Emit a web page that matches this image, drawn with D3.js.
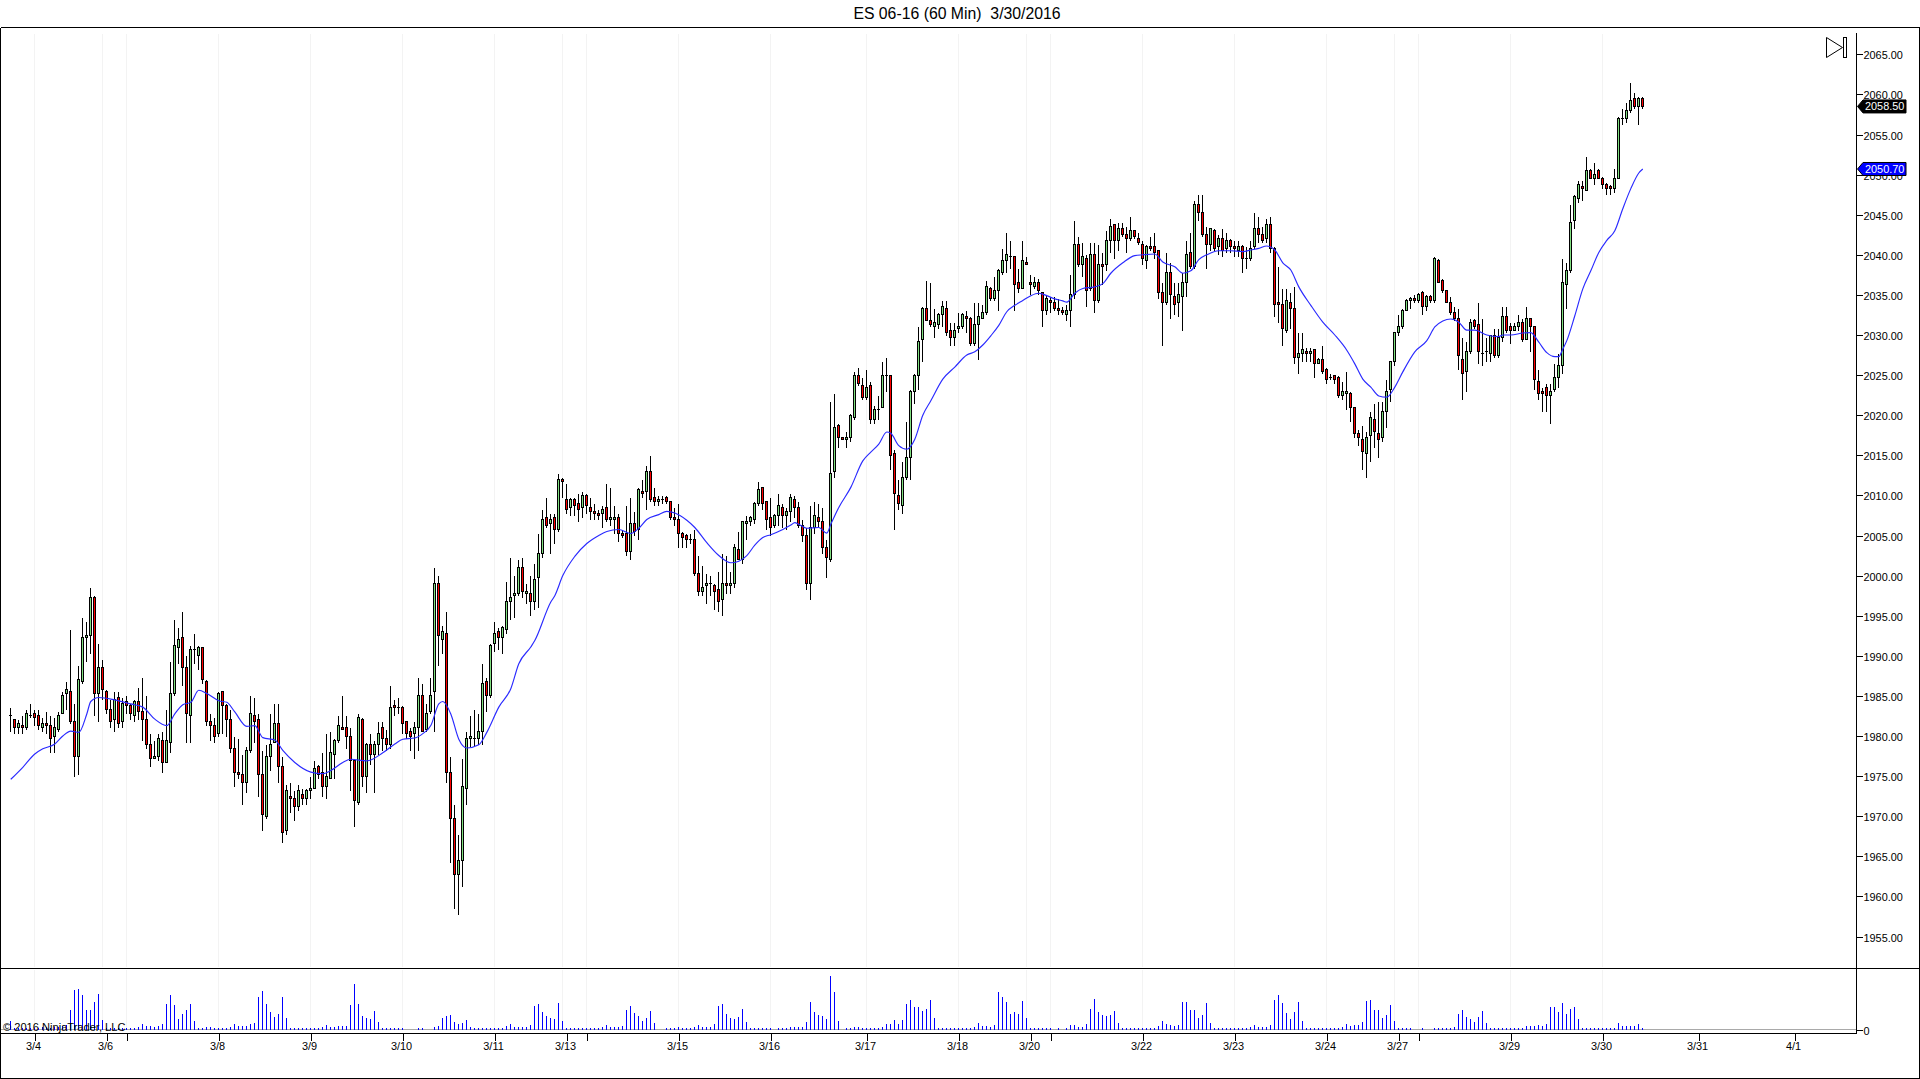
<!DOCTYPE html>
<html>
<head>
<meta charset="utf-8">
<script src="https://cdn.jsdelivr.net/npm/d3@7/dist/d3.min.js"></script>
<style>
html,body{margin:0;padding:0;background:#fff;overflow:hidden}
svg{display:block}
text{font-family:"Liberation Sans",Arial,sans-serif}
</style>
</head>
<body>
<svg id="chart" width="1920" height="1079"></svg>
<script>
const opens=[
1982.5,1982,1981,1981.25,1981,1982.5,1982.75,1982.5,1981,1981.5,
1981.25,1980,1980.75,1982.75,1985.25,1985.5,1981.75,1977.5,1986.75,1992.25,
1992.5,1997.25,1985.25,1988.5,1985.5,1983.25,1982,1984.75,1981.75,1984.25,
1983.75,1982.5,1984.25,1983,1982,1979,1977.25,1977.5,1979.5,1976.75,
1979.25,1985.25,1991,1992.25,1988.5,1982.5,1990.75,1990,1991,1986.75,
1981.75,1981.25,1980.25,1985.5,1983.75,1982,1978.5,1975.5,1975.25,1974.25,
1978.25,1982.5,1982,1975.25,1970,1977.5,1979.25,1981.5,1976.25,1968.25,
1972.5,1972.25,1971.25,1972.75,1972.25,1973.25,1973.5,1976.25,1975.5,1973.75,
1974.75,1977.75,1979.5,1981,1981,1980,1977,1971.75,1982,1975,
1979,1977.75,1979,1981,1979.75,1979,1983.75,1983.5,1983.5,1981.75,
1980.5,1980.25,1981,1985,1980.75,1983,1985.5,1999,1992,1992.75,
1975.5,1969.75,1962.75,1964.5,1973.5,1979.75,1979.75,1979.75,1980.5,1986.75,
1985,1991.5,1993,1992.25,1993.25,1996.75,1997.5,1997.75,2001,1997.75,
1997.75,1996.75,1999.75,2002.75,2007.25,2006.5,2007.25,2005.75,2012,2009.5,
2008.5,2009.5,2009,2008.5,2010,2008.5,2008,2007.75,2007.75,2008.5,
2007,2007,2007.25,2005.25,2005.25,2003,2006.5,2005.75,2010.5,2010.5,
2013,2009.75,2009.25,2009.5,2009.75,2009.25,2007.25,2007,2005.25,2005,
2004.5,2004.5,2000.25,1998,1998.75,1999,1998.75,1998.25,1997,1999,
1998.75,1999,2003.25,2002,2006.5,2006.75,2007,2009,2011,2009.25,
2007.25,2006.25,2007.5,2008.5,2007.5,2008,2009.5,2008.5,2006.25,2005,
1999,2006,2007.25,2006.75,2003.5,2002,2013,2018.75,2017.25,2017,
2017.25,2019.75,2025,2023.75,2022.25,2023.75,2019.5,2020.75,2021,2025,
2025,2015.25,2010,2008.75,2012.25,2014.75,2023,2025,2029.5,2033.25,
2031.75,2031,2031.25,2032.5,2033.25,2030.5,2029.75,2030.75,2031,2032.25,
2032,2029,2031.25,2032,2032.75,2035.75,2034.5,2035.5,2037.75,2039.25,
2039.75,2039.75,2036.5,2035.75,2039,2036.5,2036,2036.5,2035.25,2033,
2034.25,2034,2033.25,2033,2032.5,2033,2035,2041.25,2038.75,2039.5,
2035.75,2040,2034.25,2038.75,2038.75,2041.75,2043.75,2041.75,2043.25,2042.5,
2042,2043,2042,2041.25,2039.25,2041,2041,2040.5,2035.25,2034,
2037.75,2034.75,2034,2034.75,2036.5,2040.25,2038.5,2046.25,2045.25,2042.5,
2041.25,2043,2041,2042,2040.75,2041.75,2041,2040.5,2041,2039.5,
2039.5,2041,2043.25,2042.5,2042,2043.75,2040.75,2034,2033.75,2030.5,
2034,2033.25,2027.25,2027.75,2028,2027.75,2028.25,2026.5,2027,2025.75,
2024.75,2025,2024.75,2022.5,2022.75,2022.75,2021,2017.75,2017,2015.25,
2017.5,2019.5,2017.75,2017.25,2020.5,2023.25,2026.75,2030.25,2031,2033,
2034.25,2034.5,2034.25,2035.25,2033.5,2034.75,2034.25,2039.25,2036.75,2035.5,
2034,2032.75,2032,2027,2025.5,2028,2031.75,2031.25,2027.75,2028,
2027.75,2030,2027.5,2029.75,2032.25,2031,2030.5,2031,2031.5,2029.5,
2032,2031,2024.25,2023,2023.5,2022.5,2023.25,2024.75,2026.25,2036.25,
2038,2044.25,2047,2048.5,2048,2050.5,2049.5,2050.5,2049.5,2048.75,
2048.5,2048.25,2049.5,2057,2057,2058,2059.5,2058.5,2059.5];
const closes=[
1982.5,1981,1981.5,1981,1982.75,1982.5,1982.25,1981.25,1981.5,1981.25,
1979.75,1981,1982.5,1985,1985.75,1981.75,1977.5,1987,1992.25,1992.5,
1997.25,1985.25,1988.5,1985.75,1983.25,1981.75,1984.5,1981.5,1984,1983.75,
1982.75,1984.25,1983,1982,1979,1977.25,1977.5,1979.75,1976.75,1979.5,
1985.25,1991.25,1992,1988.5,1982.75,1990.75,1990.75,1991,1987,1981.75,
1981.25,1980,1985.25,1983.75,1982,1978.5,1975.5,1975.25,1974.25,1978.25,
1982.75,1981.75,1975.25,1970.25,1977.5,1979,1981.5,1976.25,1968,1973.25,
1972.25,1971.25,1973.25,1972.25,1973.25,1973.5,1976,1975.25,1973.75,1975,
1978,1979.5,1981.25,1980.75,1980,1977,1972,1982.25,1975,1979,
1977.75,1979,1980.25,1979.75,1979,1983.5,1983.5,1983.5,1981.5,1980.25,
1980,1981,1985,1980.5,1982.75,1985,1999,1992.5,1993,1975.5,
1969.75,1962.75,1964.5,1973.75,1979.75,1980,1979.75,1980.5,1986.5,1985,
1991.25,1992.75,1992.25,1993.5,1996.75,1997.25,1997.75,2001,1998,1998,
1996.75,1999.5,2002.75,2007,2006.25,2007,2005.75,2012,2011.75,2008.25,
2009.5,2008.75,2008.25,2010,2008.75,2008,2007.75,2007.5,2008.25,2007,
2007.25,2007.25,2005.25,2005,2003,2006.5,2005.5,2010.75,2010.25,2013,
2009.5,2009.25,2009.5,2009.5,2009.25,2007.25,2007,2005.25,2004.75,2004.5,
2004.5,2000.25,1998,1998.5,1999,1999,1998,1996.75,1999,1998.75,
1999,2003.5,2002,2006.75,2006.75,2007.25,2009,2010.75,2009,2007,
2006,2007.5,2008.75,2007.5,2008,2009.75,2008.5,2006.25,2005,1999,
2006,2007.5,2006.75,2003.5,2002.25,2012.75,2018.5,2017.25,2017,2017.25,
2020,2025,2024,2022.25,2023.5,2019.5,2020.75,2020.75,2025,2025,
2015,2010.25,2009,2012.25,2014.75,2023,2025,2029.25,2033.25,2031.75,
2031.25,2031.5,2032.5,2033.5,2030.25,2029.75,2030.5,2031,2032.5,2032,
2029,2031.25,2032.25,2032.75,2036,2034.5,2035.5,2038,2039.25,2040,
2039.75,2036.25,2035.75,2039.25,2038.75,2036.25,2036.5,2035.5,2033,2034.5,
2034,2033.25,2033,2032.75,2033,2035,2041.25,2038.75,2039.75,2035.5,
2040,2034.25,2038.75,2038.5,2041.75,2043.5,2041.75,2043.25,2042.5,2042,
2043,2042.25,2041.5,2039.5,2041,2040.75,2040.25,2035.25,2034,2037.75,
2035,2033.75,2035,2036.5,2040,2038.5,2046.25,2045.25,2042.5,2041.25,
2043.25,2040.75,2042,2040.5,2041.75,2041,2040.75,2041,2039.5,2039.5,
2040.75,2043.25,2042.5,2041.75,2043.75,2040.75,2033.75,2033.75,2030.75,2034.25,
2033.25,2027.25,2027.75,2028.25,2027.75,2028,2026.5,2027,2025.5,2024.5,
2024.75,2024.5,2022.5,2023,2023,2021,2017.75,2017.25,2015.5,2017.25,
2019.75,2018,2017,2020.5,2023,2026.75,2030.25,2031,2033,2034.25,
2034.5,2034.25,2035,2033.5,2034.75,2034.25,2039.5,2036.5,2035.5,2034,
2032.75,2032,2027.5,2025.25,2028,2031.5,2031,2028,2027.75,2028,
2030,2027.5,2029.75,2032.25,2030.5,2030.5,2031,2031.5,2029.5,2032,
2031,2024.5,2022.75,2022.75,2022.5,2023,2024.75,2026.25,2036.5,2038,
2044,2047.25,2048.75,2048.25,2050.5,2049.5,2050,2049.5,2048.75,2048.25,
2048.25,2049.5,2057,2057,2058,2059.25,2058.5,2059.5,2058.5];
const highs=[
1983.5,1982,1982,1982.5,1983.25,1984,1983.25,1983.25,1982.25,1983,
1982.5,1982.25,1983,1985.5,1986.75,1993.25,1984,1988.75,1994.75,1994.25,
1998.5,1997.5,1991.5,1989.5,1985.75,1984.5,1985.5,1985.5,1984.75,1985,
1984,1984.5,1986,1987.25,1985,1980.25,1979.5,1980.25,1980.5,1983.25,
1989.25,1994.5,1993.5,1995.5,1990,1991.25,1992.75,1991.25,1991,1987,
1982.75,1982.25,1985.5,1985.5,1984,1983.25,1980,1979.75,1977.75,1978.75,
1985,1984.75,1982.75,1978.25,1979,1982.75,1984,1984,1977.5,1974,
1974.25,1973.25,1974,1973.5,1973.5,1975,1977,1976.5,1978,1980.25,
1980.5,1979.75,1982.5,1985,1982.5,1981,1977,1982.75,1982.25,1979.25,
1980.25,1979.5,1981.75,1981.75,1980.75,1986.25,1984.5,1984.75,1983.75,1981.75,
1981,1981.75,1987.25,1986.5,1984,1987.25,2001,2000,1993.75,1995.5,
1977.5,1971.5,1967.75,1977.25,1980.5,1982.5,1983.25,1982.75,1989,1987.25,
1991.5,1994.25,1993.5,1993.75,1999.25,2002.25,2000,2002,2002.25,1999,
2000,2001.5,2005.25,2008.25,2009.75,2007.75,2007.75,2012.75,2012.25,2011.5,
2009.75,2009.75,2010.25,2010.5,2010.25,2009.75,2009,2008.25,2008.75,2011.5,
2011,2008.75,2007.75,2005.75,2008.75,2009.75,2008,2011,2012,2013.75,
2015,2011,2010,2010,2010,2009.25,2008.5,2009,2005.5,2005.25,
2005.25,2005.75,2002.5,2001.25,2000.25,2000,1999,2000.5,2002.75,2002.5,
2000.5,2004,2005.5,2006.75,2007.5,2007.5,2009.25,2011.75,2011,2009.25,
2009.75,2007.75,2010.25,2009,2008.5,2010.25,2010,2009.25,2007,2006,
2008.75,2009.25,2009,2008.5,2004.5,2021.75,2022.75,2019,2017.25,2018,
2020.25,2025.5,2026,2024.75,2025.75,2024.25,2021.25,2022.5,2026.75,2027.25,
2025,2015.75,2012,2014.25,2019.25,2023.25,2025.25,2031,2033.5,2036.75,
2036.5,2033.25,2032.75,2034.25,2034.25,2031.5,2031.5,2032.75,2032.75,2033,
2032.25,2034,2034,2033.75,2036.75,2036,2037.25,2038.25,2040.75,2042.75,
2041.75,2039.75,2038.25,2041.75,2039.75,2037.5,2037.25,2037,2035.25,2035,
2034.75,2034.75,2034.5,2033.5,2033.75,2037.5,2044.25,2042.25,2041.5,2040,
2041.5,2041.5,2041.25,2040.25,2043,2044.5,2043.75,2044,2044,2043.5,
2044.75,2043,2042.75,2041.75,2041.25,2042.25,2042.75,2040.5,2036.5,2040.25,
2039,2036.5,2036.5,2037.75,2041.75,2042.75,2046.75,2047.5,2047.5,2043.5,
2043.25,2043.25,2042.5,2043.25,2042.75,2042,2041.75,2041.75,2041.25,2041,
2041.75,2045.25,2044.75,2043.5,2044.5,2044.75,2041,2038.5,2035.75,2035.75,
2035.25,2036,2030.25,2030.25,2028.5,2028.5,2028.25,2027.25,2028.75,2026,
2025.25,2025,2025,2024.25,2025.5,2023,2021,2018.25,2018.75,2018,
2020.5,2021.5,2021.75,2021.75,2024.5,2026.75,2030.25,2032.5,2033.25,2034.5,
2034.75,2035,2035.25,2035.5,2035,2035,2039.75,2039.5,2037,2035.5,
2034.75,2033.5,2033.25,2029.75,2029.25,2032,2032,2034,2032,2029.75,
2030,2030.75,2030.75,2033.5,2033.5,2031.5,2031.5,2032.5,2032,2033.5,
2032,2031,2025.75,2023.5,2024,2024,2026.5,2027.75,2039.5,2039,
2046.25,2047.5,2049.25,2049.25,2052.25,2050.75,2051.5,2050.75,2049.75,2049,
2048.75,2050.75,2057.25,2058.25,2059,2061.5,2060.25,2059.75,2059.75];
const lows=[
1980.5,1980.25,1980.25,1980.25,1980.75,1982.25,1981.25,1980.75,1980.5,1980.25,
1978,1978,1980.5,1982.75,1983.25,1981.5,1975,1975.25,1986.5,1989.25,
1990.25,1982.5,1981.75,1984.5,1982.75,1981,1980.5,1981,1981,1982.75,
1982,1981.75,1982,1979.5,1978.5,1976.25,1977.25,1977,1975.5,1976.75,
1978,1985,1989,1986.25,1979.25,1979.25,1989,1988.25,1986.5,1981.25,
1979.5,1979.25,1980,1980.25,1980,1978,1973.75,1974.75,1971.5,1973,
1978,1979.25,1972.5,1968.25,1969.75,1975.75,1979.25,1974.25,1966.75,1967.75,
1970.5,1969.5,1970.75,1971.5,1971.5,1972.25,1973.5,1974.75,1972.5,1972.25,
1974.75,1974.75,1979.25,1980.75,1978.5,1973.25,1968.75,1971.5,1973.75,1973,
1976.5,1973,1977.75,1978.25,1978.25,1978.5,1982.5,1982.75,1980.25,1979.75,
1978.25,1977.25,1978.25,1980.5,1980.5,1982.75,1980.5,1988.75,1990.25,1974.25,
1964.25,1958.5,1957.75,1961.25,1971.5,1978.75,1978.75,1979,1979,1983,
1984.75,1990.5,1990.75,1990.25,1992.75,1994.5,1994.75,1997.5,1997.25,1996.5,
1995,1995.75,1996,2002.25,2006,2002.75,2004,2005.5,2009.75,2007.75,
2007.5,2007.5,2006.75,2007.25,2007.75,2007,2007,2007,2006,2006.75,
2006.25,2005.25,2004.25,2004.75,2002.5,2002,2005,2004.5,2009.75,2008.25,
2009.25,2008.75,2008.75,2009,2009,2007,2006.25,2003.5,2003.5,2003.5,
2004,2000,1997.5,1997.5,1996.5,1997.5,1995.75,1995.5,1995,1997.75,
1997.75,1998.5,2002,2001.5,2004.5,2006.25,2006.5,2008.75,2008.25,2005.75,
2005,2006,2006.25,2006,2005.75,2006.75,2007.25,2006,2004.25,1998.25,
1997,2005.25,2006,2002.75,1999.75,2001.75,2012.25,2016,2017,2016,
2016.75,2019.5,2023.75,2022,2022,2019,2019,2019.5,2021,2023,
2013.25,2005.75,2008.25,2007.75,2012,2012,2021.5,2023.25,2026.75,2031.75,
2031,2029.75,2030.75,2031,2030,2028.75,2028.75,2030.25,2030.75,2030.25,
2028.75,2028.75,2027,2032,2032.5,2034.25,2034.25,2033,2037.5,2037.75,
2038.25,2033,2035.25,2035.75,2038.75,2035,2035.75,2035,2031,2032.5,
2032.75,2033,2032.5,2032.5,2031.75,2031,2034.5,2038.5,2037.25,2033.5,
2035.5,2032.75,2034,2036.25,2038,2040.25,2039.5,2040.5,2042.25,2040.25,
2041.75,2042,2041.25,2038.75,2038.25,2040.5,2039.5,2034.5,2028.75,2033.75,
2032,2032.5,2032.25,2030.5,2034.75,2038.25,2038.25,2044.25,2042.25,2038.25,
2040.5,2040.5,2040,2039.75,2040.25,2040.25,2039.75,2039.75,2037.75,2038.25,
2039.25,2040.75,2041.5,2041.5,2041.5,2040.25,2032.25,2031.5,2028.75,2030.25,
2030.75,2026.5,2025.25,2026.75,2026.75,2026.75,2024.75,2026.5,2025.25,2024,
2024.5,2024,2022.25,2022,2020.75,2019.25,2017.25,2016.25,2013.25,2012.25,
2014.25,2016,2014.75,2016.75,2018.5,2021.75,2026.25,2030,2030.75,2033,
2033.25,2034,2034,2032.5,2033,2034,2034,2036.5,2035.25,2034,
2032.5,2031.75,2025.75,2022,2023,2027.75,2030.75,2026.5,2026.25,2026.75,
2026.75,2027.25,2027.25,2029.25,2030.25,2029,2030.5,2030.5,2029.25,2029.5,
2028,2023.25,2022,2020.5,2020.5,2019,2023,2023.5,2025.25,2033.25,
2037.75,2043.25,2046.5,2046.75,2048,2049.5,2048.75,2049.5,2048.25,2047.5,
2047.5,2047.75,2049.5,2056.25,2056.5,2057.75,2058.25,2056.25,2058.25];
const volumes=[
26,6,6,6,6,6,6,6,8,8,
6,8,10,12,16,59,119,122,104,59,
59,83,107,29,6,6,6,6,6,6,
6,6,8,17,11,11,8,11,17,77,
104,74,32,47,59,77,26,5,5,8,
8,5,5,5,5,8,17,11,11,11,
17,20,98,116,77,53,38,47,98,35,
5,5,5,5,5,5,5,5,8,14,
8,8,11,11,11,74,137,77,41,35,
32,56,23,5,5,5,5,5,5,0,
0,0,5,5,0,0,8,11,35,41,
44,23,17,20,29,8,5,5,5,5,
5,5,5,5,11,17,8,8,8,8,
14,71,77,53,41,35,32,80,26,5,
5,5,5,5,5,5,5,5,8,14,
8,8,8,11,59,71,50,41,26,35,
56,20,0,0,5,5,5,8,5,5,
5,8,14,8,8,8,17,71,77,47,
35,32,38,62,23,5,5,5,5,5,
5,0,5,5,5,8,8,8,8,23,
83,53,44,41,32,161,113,26,0,5,
5,8,8,5,5,5,5,5,8,17,
17,29,17,29,77,89,68,68,56,62,
89,35,5,5,5,5,5,5,5,5,
5,8,20,11,11,8,14,113,98,83,
47,53,47,86,35,5,5,5,5,5,
5,0,5,0,5,14,14,8,8,17,
62,92,53,44,41,44,56,20,5,5,
5,5,5,5,5,5,5,11,26,17,
14,11,14,83,83,59,59,35,44,80,
20,5,5,5,5,5,5,5,5,5,
8,14,8,8,8,14,89,104,80,50,
32,53,83,26,5,5,5,5,5,5,
5,5,5,8,17,11,14,14,23,86,
89,59,59,35,44,74,26,5,5,5,
5,0,0,5,0,0,5,5,5,5,
5,8,47,59,38,32,23,38,56,20,
5,5,5,5,5,5,5,5,5,11,
11,11,14,11,17,68,68,53,82,49,
64,70,34,5,5,5,5,5,5,5,
5,5,20,11,11,11,11,17,5];
const averageBars=[0,3,6,8,11,13,15,17,19,20,22,26,30,33,36,39,41,43,45,47,49,52,54,56,59,61,63,66,68,71,75,78,80,83,85,89,93,96,98,101,103,105,107,108,110,112,114,117,119,122,
125,127,130,131,135,136,138,141,144,147,149,152,155,157,159,162,164,166,169,171,174,177,180,182,184,186,188,190,193,195,196,197,199,202,204,
205,207,210,213,215,217,219,220,222,224,226,228,230,233,236,239,241,243,245,247,249,251,253,255,257,
258,261,263,264,266,268,271,273,275,278,281,283,286,288,291,293,295,297,299,302,305,308,310,312,314,316,318,320,322,325,328,331,334,336,338,340,342,344,346,348,351,354,356,358,360,362,364,366,369,372,
373,375,378,380,382,384,386,387,388,389,391,393,395,397,399,401,403,405,407,408];
const averageValues=[1974.6,1976.1,1977.75,1978.4,1979,1980,1980.6,1980.45,1982.75,1984.3,1984.8,1984.5,1984,1983.6,1982.1,1981.3,1982.75,1983.9,1984.2,1985.7,1985.3,1984.4,1984.2,1983,1981.2,1981.3,1979.8,1979.5,1978.2,1976.7,1975.5,1975.3,1975.7,1976.7,1977.1,1976.9,1977.9,1979,1979.6,1979.75,1980.3,1981.3,1984,1984.3,1982.75,1979.6,1978.5,1978.9,1980.45,1983.6,
1985.9,1989,1991.1,1991.9,1996.7,1997.5,2000,2002.4,2004,2005,2005.5,2005.75,2005.25,2005.9,2007,2007.6,2008,2007.8,2006.9,2006,2004.1,2002.5,2001.6,2001.8,2002.5,2003.8,2004.75,2005.1,2005.75,2006.3,2006.6,2006.4,2005.9,2006,2005.3,
2006.4,2008.5,2011,2014.3,2015.4,2016.4,2017.9,2017.75,2016.2,2015.75,2017,2020,2021.8,2024.5,2026,2027.5,2027.9,2028.75,2029.9,2031.2,2032.9,2033.7,2034.3,2034.9,2035.2,
2035.1,2034.5,2034.25,2034.1,2035.2,2035.8,2036,2036.4,2037.7,2039,2039.9,2040,2040.1,2039.1,2038.5,2037.7,2038,2039.4,2040,2040.5,2040.5,2040.4,2040.6,2040.8,2041.1,2040.6,2039,2038.1,2036,2033.7,2031.6,2030,2028.1,2026.4,2024.5,2023.5,2022.4,2022.25,2023.5,2025.4,2027.9,2029.3,2031,2031.75,2032,2031.6,2030.6,2030.6,2030,2029.8,
2030,2030,2030.25,2030.3,2029.1,2027.8,2027.3,2027.3,2028.25,2029.3,2032.4,2035.75,2038,2040.3,2041.8,2043,2045.75,2048.25,2050.2,2050.7];
const priceTicks=[1955,1960,1965,1970,1975,1980,1985,1990,1995,2000,2005,2010,2015,2020,2025,2030,2035,2040,2045,2050,2055,2060,2065];
const dateTickBars=[6,24,29,52,75,98,121,139,144,167,190,214,237,255,260,283,306,329,347,352,375,398,422,446];
const dateTickLabels=["3/4","3/6","","3/8","3/9","3/10","3/11","3/13","","3/15","3/16","3/17","3/18","3/20","","3/22","3/23","3/24","3/27","","3/29","3/30","3/31","4/1"];
const gridBars=[6,23,29,52,75,98,121,138,144,167,190,214,237,254,260,283,306,329,346,352,375,398];
const lastPrice=2058.5, lastAverage=2050.7;
const titleText="ES 06-16 (60 Min)  3/30/2016";
const copyrightText="\u00A9 2016 NinjaTrader, LLC";

const svg=d3.select("#chart");
const x=d3.scaleLinear().domain([0,408]).range([10.5,1642.5]);
const y=d3.scaleLinear().domain([1955,2065]).range([936.5,54.3]);
const v=d3.scaleLinear().domain([0,161]).range([1029.5,975.83]);
const snap=p=>Math.round(p-0.5)+0.5;
const black="#000";

// grid
const grid=svg.append("g").attr("stroke","#f3f3f3").attr("shape-rendering","crispEdges");
grid.selectAll("line.a").data(gridBars).join("line").attr("class","a")
  .attr("x1",d=>x(d)).attr("x2",d=>x(d)).attr("y1",34).attr("y2",967);
grid.selectAll("line.b").data(gridBars).join("line").attr("class","b")
  .attr("x1",d=>x(d)).attr("x2",d=>x(d)).attr("y1",970).attr("y2",1029);

// volume baseline and bars
svg.append("line").attr("x1",1).attr("x2",1856).attr("y1",1029.5).attr("y2",1029.5)
  .attr("stroke","#a9a9a9").attr("shape-rendering","crispEdges");
svg.append("g").attr("stroke","#0000ff").attr("shape-rendering","crispEdges")
  .selectAll("line").data(volumes.map((d,i)=>[i,d]).filter(d=>d[1]>0)).join("line")
  .attr("x1",d=>x(d[0])).attr("x2",d=>x(d[0]))
  .attr("y1",v(0)).attr("y2",d=>snap(v(d[1])));

// candles
const bars=opens.map((o,i)=>({i,o,c:closes[i],h:highs[i],l:lows[i]}));
const candles=svg.append("g");
candles.append("g").attr("stroke",black).attr("shape-rendering","crispEdges")
  .selectAll("line").data(bars).join("line")
  .attr("x1",d=>x(d.i)).attr("x2",d=>x(d.i))
  .attr("y1",d=>snap(y(d.h))).attr("y2",d=>snap(y(d.l)));
candles.append("g").attr("shape-rendering","crispEdges")
  .selectAll("rect").data(bars.filter(d=>d.c!==d.o)).join("rect")
  .attr("x",d=>x(d.i)-1).attr("width",2)
  .attr("y",d=>snap(y(Math.max(d.o,d.c))))
  .attr("height",d=>snap(y(Math.min(d.o,d.c)))-snap(y(Math.max(d.o,d.c))))
  .attr("fill",d=>d.c>d.o?"#80e080":"#ff0000")
  .attr("stroke",black);
candles.append("g").attr("stroke",black).attr("shape-rendering","crispEdges")
  .selectAll("line").data(bars.filter(d=>d.c===d.o)).join("line")
  .attr("x1",d=>x(d.i)-1.5).attr("x2",d=>x(d.i)+1.5)
  .attr("y1",d=>snap(y(d.o))).attr("y2",d=>snap(y(d.o)));

// average line
svg.append("path").datum(averageBars.map((b,i)=>[b,averageValues[i]]))
  .attr("fill","none").attr("stroke","#2a2aff").attr("stroke-width",1.15)
  .attr("d",d3.line().x(d=>x(d[0])+0.3).y(d=>y(d[1])).curve(d3.curveMonotoneX));

// frame
const frame=svg.append("g").attr("stroke",black).attr("shape-rendering","crispEdges");
[[0,27,1920,27],[0,968,1920,968],[0,1033,1856,1033],[0,1078,1920,1078],[0,27,0,1078],[1919,27,1919,1078],[1856,32,1856,1033]]
  .forEach(s=>frame.append("line").attr("x1",s[0]+0.5).attr("y1",s[1]+0.5).attr("x2",s[2]+0.5).attr("y2",s[3]+0.5));

// price axis
const priceAxis=d3.axisRight(y).tickValues(priceTicks).tickFormat(d3.format(".2f")).tickSize(6).tickPadding(1);
const pa=svg.append("g").attr("transform","translate(1856.5,0)").call(priceAxis);
pa.select(".domain").remove();
pa.selectAll("line").attr("stroke",black).attr("shape-rendering","crispEdges");
pa.selectAll("text").attr("fill",black).attr("font-size","10.9px").attr("font-family","Liberation Sans").attr("y",1);

// volume axis
const va=svg.append("g").attr("transform","translate(1856.5,0)")
  .call(d3.axisRight(v).tickValues([0]).tickFormat(d3.format("d")).tickSize(6).tickPadding(1));
va.select(".domain").remove();
va.selectAll("line").attr("stroke",black).attr("shape-rendering","crispEdges");
va.selectAll("text").attr("fill",black).attr("font-size","10.9px").attr("font-family","Liberation Sans").attr("y",1);

// date axis
const da=svg.append("g").attr("transform","translate(0,1033.5)")
  .call(d3.axisBottom(x).tickValues(dateTickBars).tickFormat((d,i)=>dateTickLabels[i]).tickSize(7).tickPadding(2));
da.select(".domain").remove();
da.selectAll("line").attr("stroke",black).attr("shape-rendering","crispEdges");
da.selectAll("text").attr("fill",black).attr("font-size","10.9px").attr("font-family","Liberation Sans").attr("dx",-1.5);

// price markers
function marker(val,fill,stroke){
  const c=y(val);
  svg.append("path").attr("d",`M1857.5,${c} L1863,${c-6.5} L1906,${c-6.5} L1906,${c+6.5} L1863,${c+6.5} Z`)
    .attr("fill",fill).attr("stroke",stroke);
  svg.append("text").attr("x",1865).attr("y",c+3.9).attr("fill","#fff").attr("font-size","10.9px").text(d3.format(".2f")(val));
}
marker(lastPrice,"#000","#000");
marker(lastAverage,"#0000ff","#000");

// go-to-end icon
svg.append("path").attr("d","M1826.5,37.5 L1842.5,47.5 L1826.5,57.5 Z").attr("fill","#fff").attr("stroke",black);
svg.append("rect").attr("x",1843.5).attr("y",37.5).attr("width",3).attr("height",20).attr("fill","#fff").attr("stroke",black);

// title and copyright
svg.append("text").attr("x",957).attr("y",19).attr("text-anchor","middle").attr("font-size","15.8px").attr("xml:space","preserve").style("white-space","pre").attr("fill",black).text(titleText);
svg.append("text").attr("x",3).attr("y",1031).attr("font-size","11.1px").attr("fill",black).text(copyrightText);
</script>
</body>
</html>
